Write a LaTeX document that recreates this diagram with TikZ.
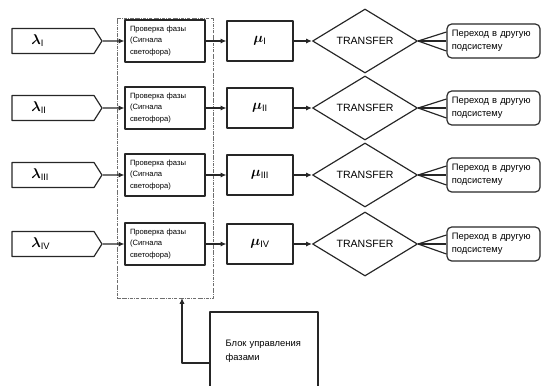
\documentclass[tikz,border=0pt]{standalone}
\usepackage{fontspec}
\setmainfont{Liberation Sans}
\usepackage{bm}
\usetikzlibrary{arrows.meta,positioning,calc,shapes.geometric,shapes.symbols}
\definecolor{dgInk}{HTML}{262626}
\definecolor{dgFrame}{HTML}{6E6E6E}

\begin{document}
\begin{tikzpicture}[x=0.03cm, y=-0.03cm, line join=round,
  inbox/.style={signal, signal to=east, signal pointer angle=115, draw=dgInk, line width=1pt, minimum width=2.7cm, minimum height=0.75cm, text width=1.9cm, align=left, inner sep=1pt, font=\large},
  chkbox/.style={draw=dgInk, line width=1pt, minimum width=2.4cm, minimum height=1.26cm, text width=2.1cm, align=left, inner sep=2pt, font=\fontsize{6.5}{9.5}\selectfont},
  mubox/.style={draw=dgInk, line width=1pt, minimum width=1.98cm, minimum height=1.2cm, font=\large},
  trans/.style={diamond, draw=dgInk, line width=1pt, minimum width=3.15cm, minimum height=1.92cm, aspect=1.6, inner sep=0pt, font=\fontsize{9}{11}\selectfont},
  outbox/.style={draw=dgInk, line width=1pt, rounded corners=4pt, minimum width=2.79cm, minimum height=1.02cm, text width=2.5cm, align=left, font=\fontsize{8}{11.5}\selectfont},
  phase/.style={draw=dgFrame, densely dashdotted, minimum width=2.88cm, minimum height=8.4cm},
  ctrl/.style={draw=dgInk, line width=1pt, minimum width=3.24cm, minimum height=2.34cm, text width=2.3cm, align=left, font=\fontsize{8}{12}\selectfont},
  arr/.style={-{Latex[length=5pt,width=4.5pt]}, line width=1pt, dgInk},
  lnk/.style={line width=1pt, dgInk}]
\clip (0,0) rectangle (541,385);
\node[phase] (phases) at (165,158) {};
% rows: input flow -> phase check -> service -> transfer -> exit
\foreach \r/\y in {I/41,II/108,III/175,IV/244}{
  \node[inbox] (lam\r) at (53,\y) {\hspace*{3mm}$\bm{\lambda}_{\mathrm{\r}}$};
  \node[chkbox] (chk\r) at (165,\y) {Проверка фазы\\(Сигнала\\светофора)};
  \node[mubox] (mu\r) at (260,\y) {$\bm{\mu}_{\mathrm{\r}}$};
  \node[trans] (tr\r) at (365,\y) {TRANSFER};
  \node[outbox] (out\r) at (493.5,\y) {Переход в другую\\подсистему};
  \draw[arr] (lam\r) -- (chk\r);
  \draw[arr] (chk\r) -- (mu\r);
  \draw[arr] (mu\r) -- (tr\r);
  \draw[lnk] (tr\r.east) -- ($(out\r.west)+(0,-9)$);
  \draw[lnk] (tr\r.east) -- (out\r.west);
  \draw[lnk] (tr\r.east) -- ($(out\r.west)+(0,10)$);
}
\node[ctrl] (ctrl) at (264,351) {Блок управления\\фазами};
\coordinate (ctrlout) at (210,363);
\coordinate (phin) at (182,298);
\draw[arr] (ctrlout) -| (phin);
\end{tikzpicture}
\end{document}
